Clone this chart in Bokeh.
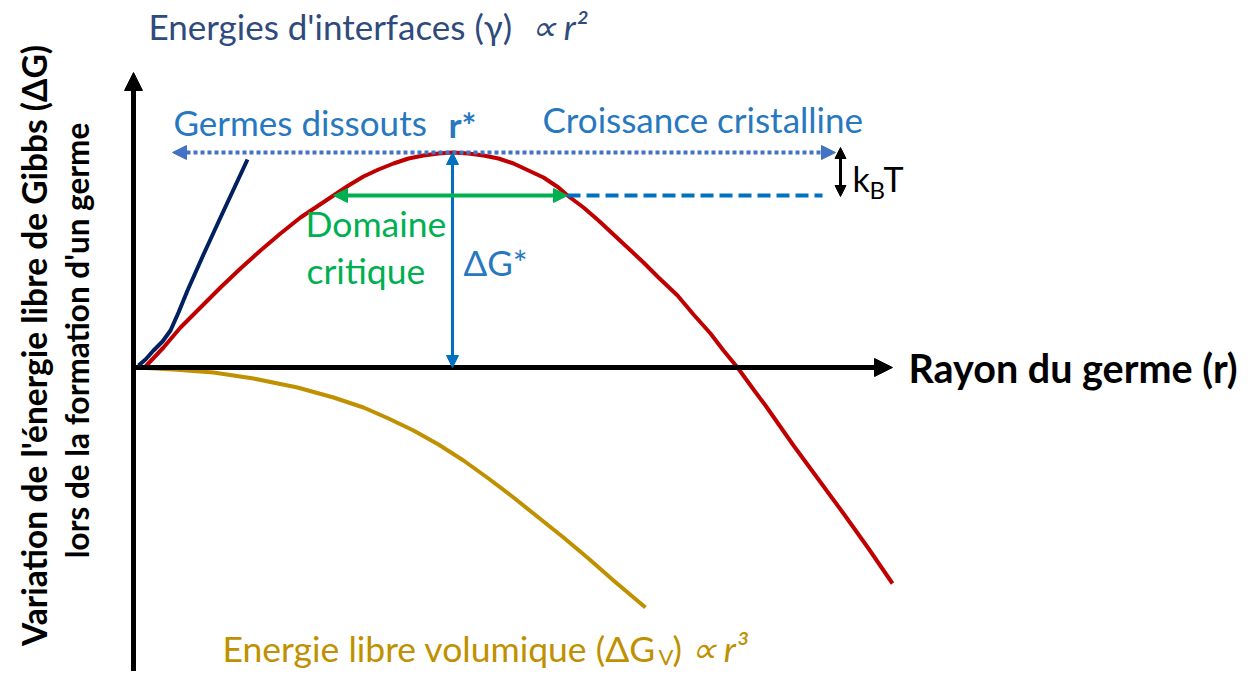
import math
from bokeh.plotting import figure
from bokeh.models import Range1d, Arrow, NormalHead
from bokeh.core.properties import value
from bokeh.embed import file_html
from bokeh.resources import INLINE

# ---- data (arbitrary units, origin at r=0, dG=0) ----
red_r  = [12, 30, 47, 67, 87, 107, 127, 147, 167, 185, 200, 215, 230, 245, 260, 275, 290, 305, 319,
          335, 350, 365, 380, 395, 410, 425, 434, 450, 465, 480, 494, 510, 525, 544, 560, 577, 590,
          604, 620, 632, 646, 660, 685, 710, 735, 759]
red_dg = [1, 20, 40, 60, 80, 99, 117, 134, 150, 162, 172, 182, 191, 198, 204, 209, 212, 214, 215,
          214, 212, 209, 204, 197, 190, 180, 172, 160, 147, 133, 120, 105, 90, 72, 53, 34, 17,
          0, -22, -38, -58, -78, -112, -146, -181, -216]

navy_r  = [5, 12, 20, 29, 37, 45, 54, 70, 87, 114]
navy_dg = [2, 8, 17, 26, 37, 55, 77, 113, 150, 208]

gold_r  = [4, 40, 80, 120, 164, 200, 230, 255, 280, 305, 330, 355, 380, 405, 430, 455, 480, 512]
gold_dg = [0, -2, -5, -11, -20, -30, -40, -51, -63, -77, -93, -111, -130, -150, -170, -191, -213, -240]

R_STAR, DG_STAR = 319, 215
CRIT_LO, CRIT_HI, CRIT_LEVEL = 200, 434, 172
DOT_LO, DOT_HI = 39, 702
DASH_HI = 689
KBT_X = 707
X_AXIS_END, Y_AXIS_END, Y_AXIS_BOTTOM = 759, 295, -318

FONT = "Lato"
NAVY_TXT = "#2F4A7C"
BLUE_TXT = "#2878C0"
GREEN = "#00B050"
GOLD = "#BF9000"
RED = "#C00000"

p = figure(width=1241, height=671, output_backend="svg", toolbar_location=None,
           x_range=Range1d(-133, 1108), y_range=Range1d(-304, 367),
           x_axis_location=None, y_axis_location=None, min_border=0)
p.grid.visible = False
p.outline_line_color = None
p.background_fill_color = "white"

# curves
p.line(navy_r, navy_dg, line_color="#002060", line_width=4, line_join="round")
p.line(gold_r, gold_dg, line_color=GOLD, line_width=4, line_join="round")
p.line(red_r, red_dg, line_color=RED, line_width=4, line_join="round")

def head(color, size):
    return NormalHead(size=size, fill_color=color, line_color=color, line_width=1)

# axes as arrows
p.add_layout(Arrow(x_start=0, y_start=0, x_end=X_AXIS_END, y_end=0, line_width=5,
                   line_color="black", end=head("black", 18)))
p.add_layout(Arrow(x_start=0, y_start=Y_AXIS_BOTTOM, x_end=0, y_end=Y_AXIS_END, line_width=5,
                   line_color="black", end=head("black", 18)))

# dotted arrow at dG*
p.add_layout(Arrow(x_start=DOT_LO, y_start=DG_STAR, x_end=DOT_HI, y_end=DG_STAR, line_width=4,
                   line_color="#4472C4", line_dash="4 3", start=head("#4472C4", 14), end=head("#4472C4", 14)))
# vertical dG* arrow
p.add_layout(Arrow(x_start=R_STAR, y_start=0, x_end=R_STAR, y_end=DG_STAR, line_width=3,
                   line_color="#0070C0", start=head("#0070C0", 12), end=head("#0070C0", 12)))
# critical domain arrow
p.add_layout(Arrow(x_start=CRIT_LO, y_start=CRIT_LEVEL, x_end=CRIT_HI, y_end=CRIT_LEVEL, line_width=4,
                   line_color=GREEN, start=head(GREEN, 14), end=head(GREEN, 14)))
# dashed line
p.line([CRIT_HI, DASH_HI], [CRIT_LEVEL, CRIT_LEVEL], line_color="#0070C0", line_width=4, line_dash="13 6")
# kBT arrow
p.add_layout(Arrow(x_start=KBT_X, y_start=CRIT_LEVEL - 1, x_end=KBT_X, y_end=DG_STAR + 5, line_width=3,
                   line_color="black", start=head("black", 11), end=head("black", 11)))

BASELINE_FIX = 0.34  # em; the svg text sits this much lower than the requested baseline

def txt(x, y, s, color, size, style="normal", align="left", baseline="alphabetic", angle=0.0):
    if angle == 0.0:
        y = y + BASELINE_FIX * size
    p.text(x=[x], y=[y], text=[s], text_color=color, text_font=value(FONT),
           text_font_size=value(f"{size}px"), text_font_style=style,
           text_align=align, text_baseline=baseline, angle=angle)

txt(15, 330, "Energies d'interfaces (γ)", NAVY_TXT, 35)
txt(397, 330, "∝ r²", NAVY_TXT, 35, style="italic")
txt(40, 234, "Germes dissouts", BLUE_TXT, 35)
txt(315, 232, "r*", BLUE_TXT, 35, style="bold")
txt(409, 237, "Croissance cristalline", BLUE_TXT, 35)
txt(172, 132, "Domaine", GREEN, 35.5)
txt(173, 85, "critique", GREEN, 35.5)
txt(330, 94, "ΔG*", BLUE_TXT, 35)
txt(719, 177, "k", "black", 34)
txt(736, 170, "B", "black", 24)
txt(750, 177, "T", "black", 34)
txt(775, -13, "Rayon du germe (r)", "black", 39.5, style="bold")
txt(89, -293, "Energie libre volumique (ΔG", GOLD, 35.5)
txt(525, -296, "V", GOLD, 22)
txt(539, -293, ")", GOLD, 35.5)
txt(557, -293, "∝ r³", GOLD, 35.5, style="italic")
txt(-100, 22, "Variation de l'énergie libre de Gibbs (ΔG)", "black", 33.5, style="bold",
    align="center", baseline="middle", angle=math.pi / 2)
txt(-57, 27, "lors de la formation d'un germe", "black", 31.5, style="bold",
    align="center", baseline="middle", angle=math.pi / 2)

open("out.html", "w").write(file_html(p, INLINE))
